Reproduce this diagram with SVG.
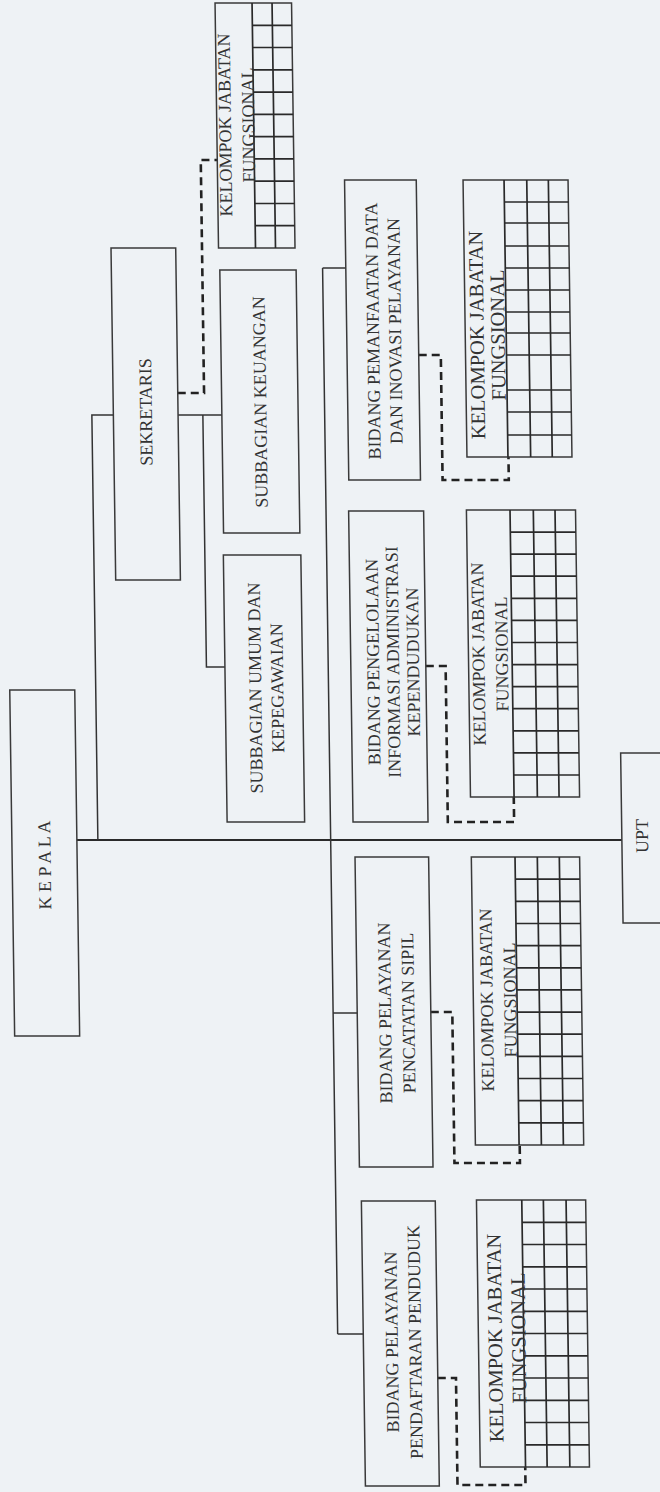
<svg xmlns="http://www.w3.org/2000/svg" width="660" height="1492" viewBox="0 0 660 1492">
<style>
.bg{fill:#eef2f5}
.box{fill:none;stroke:#3a3a3a;stroke-width:1.5}
.grid{fill:none;stroke:#2a2a2a;stroke-width:1.7}
.ln{fill:none;stroke:#333;stroke-width:1.5}
.main{fill:none;stroke:#2a2a2a;stroke-width:2}
.dash{fill:none;stroke:#222;stroke-width:2.6;stroke-dasharray:8 5}
text{font-family:"Liberation Serif","Times New Roman",serif;font-size:18px;fill:#333;text-anchor:middle;dominant-baseline:central}
.big{font-size:20.5px}
</style>
<rect class="bg" x="0" y="0" width="660" height="1492"/>
<g transform="skewX(0.81)">
<g id="connectors">
<path class="main" d="M65,840 H610"/>
<path class="ln" d="M86,840 V415 H107.5 M172.2,415 H216"/>
<path class="ln" d="M197,415 V667 H215.5"/>
<path class="ln" d="M318.8,268 V1334 M318.8,268 H342 M318.8,1013 H342.9 M318.8,1334 H344.4"/>
<path class="dash" d="M172.2,393 H198.5 V160 H215"/>
<path class="dash" d="M413.7,355 H435.8 V480 H502 V457"/>
<path class="dash" d="M416.4,666 H436.2 V822 H502.5 V797"/>
<path class="dash" d="M416.5,1012 H438 V1163 H503.5 V1145"/>
<path class="dash" d="M418.3,1378 H436.5 V1485 H504.5 V1467"/>
</g>
<g id="kepala">
<rect class="box" x="0" y="690" width="65" height="346"/>
<text transform="translate(32.5,865) rotate(-90)">K E P A L A</text>
</g>
<g id="sekretaris">
<rect class="box" x="107.5" y="248" width="64.7" height="332"/>
<text transform="translate(140,412) rotate(-90)">SEKRETARIS</text>
</g>
<g id="kjf-sekretariat">
<rect class="box" x="215" y="3" width="76.5" height="245"/>
<path class="grid" d="M252,3 V248 M272,3 V248 M252,25.3 H291.5 M252,47.5 H291.5 M252,69.8 H291.5 M252,92.1 H291.5 M252,114.4 H291.5 M252,136.6 H291.5 M252,158.9 H291.5 M252,181.2 H291.5 M252,203.5 H291.5 M252,225.7 H291.5"/>
<text transform="translate(223.2,125) rotate(-90)">KELOMPOK JABATAN</text>
<text transform="translate(246.5,125) rotate(-90)">FUNGSIONAL</text>
</g>
<g id="subbagian-keuangan">
<rect class="box" x="216" y="270" width="76.3" height="263"/>
<text transform="translate(254.5,402) rotate(-90)">SUBBAGIAN KEUANGAN</text>
</g>
<g id="subbagian-umum">
<rect class="box" x="215.5" y="555" width="77.5" height="267"/>
<text transform="translate(245.5,688) rotate(-90)">SUBBAGIAN UMUM DAN</text>
<text transform="translate(267.5,688) rotate(-90)">KEPEGAWAIAN</text>
</g>
<g id="bidang-pemanfaatan">
<rect class="box" x="342" y="180" width="71.7" height="300"/>
<text transform="translate(368.3,331) rotate(-90)">BIDANG PEMANFAATAN DATA</text>
<text transform="translate(390.3,331) rotate(-90)">DAN INOVASI PELAYANAN</text>
</g>
<g id="kjf-pemanfaatan">
<rect class="box" x="460.5" y="180" width="105" height="277"/>
<path class="grid" d="M501.5,180 V457 M524.2,180 V457 M545.8,180 V457 M501.5,202 H565.5 M501.5,223 H565.5 M501.5,246 H565.5 M501.5,268 H565.5 M501.5,290 H565.5 M501.5,312 H565.5 M501.5,333 H565.5 M501.5,355 H565.5 M501.5,390 H565.5 M501.5,412 H565.5 M501.5,435 H565.5"/>
<text class="big" transform="translate(472,335) rotate(-90)">KELOMPOK JABATAN</text>
<text class="big" transform="translate(493,335) rotate(-90)">FUNGSIONAL</text>
</g>
<g id="bidang-pengelolaan">
<rect class="box" x="341.4" y="511" width="75" height="311"/>
<text transform="translate(363.7,662) rotate(-90)">BIDANG PENGELOLAAN</text>
<text transform="translate(383.7,662) rotate(-90)">INFORMASI ADMINISTRASI</text>
<text transform="translate(403.7,662) rotate(-90)">KEPENDUDUKAN</text>
</g>
<g id="kjf-pengelolaan">
<rect class="box" x="459.2" y="510" width="109.1" height="287"/>
<path class="grid" d="M502.8,510 V797 M526.1,510 V797 M547.8,510 V797 M502.8,532.1 H568.3 M502.8,554.2 H568.3 M502.8,576.2 H568.3 M502.8,598.3 H568.3 M502.8,620.4 H568.3 M502.8,642.5 H568.3 M502.8,664.6 H568.3 M502.8,686.6 H568.3 M502.8,708.7 H568.3 M502.8,730.8 H568.3 M502.8,752.9 H568.3 M502.8,775 H568.3"/>
<text transform="translate(469.1,654) rotate(-90)">KELOMPOK JABATAN</text>
<text transform="translate(492.5,654) rotate(-90)">FUNGSIONAL</text>
</g>
<g id="bidang-pencatatan">
<rect class="box" x="342.9" y="857" width="73.6" height="310"/>
<text transform="translate(370.7,1013) rotate(-90)">BIDANG PELAYANAN</text>
<text transform="translate(394,1013) rotate(-90)">PENCATATAN SIPIL</text>
</g>
<g id="kjf-pencatatan">
<rect class="box" x="459.2" y="857" width="108.3" height="288"/>
<path class="grid" d="M502.9,857 V1145 M525.2,857 V1145 M547.2,857 V1145 M502.9,879.2 H567.5 M502.9,901.3 H567.5 M502.9,923.5 H567.5 M502.9,945.6 H567.5 M502.9,967.8 H567.5 M502.9,989.9 H567.5 M502.9,1012.1 H567.5 M502.9,1034.2 H567.5 M502.9,1056.4 H567.5 M502.9,1078.5 H567.5 M502.9,1100.7 H567.5 M502.9,1122.8 H567.5"/>
<text transform="translate(472.6,1000) rotate(-90)">KELOMPOK JABATAN</text>
<text transform="translate(495.9,1000) rotate(-90)">FUNGSIONAL</text>
</g>
<g id="bidang-pendaftaran">
<rect class="box" x="344.4" y="1201" width="73.9" height="285"/>
<text transform="translate(372.8,1342) rotate(-90)">BIDANG PELAYANAN</text>
<text transform="translate(396.1,1342) rotate(-90)">PENDAFTARAN PENDUDUK</text>
</g>
<g id="kjf-pendaftaran">
<rect class="box" x="459.5" y="1200" width="109.2" height="267"/>
<path class="grid" d="M504.8,1200 V1467 M526.4,1200 V1467 M549.1,1200 V1467 M504.8,1222.3 H568.7 M504.8,1244.5 H568.7 M504.8,1266.8 H568.7 M504.8,1289 H568.7 M504.8,1311.3 H568.7 M504.8,1333.5 H568.7 M504.8,1355.8 H568.7 M504.8,1378 H568.7 M504.8,1400.3 H568.7 M504.8,1422.5 H568.7 M504.8,1444.8 H568.7"/>
<text class="big" transform="translate(476,1338) rotate(-90)">KELOMPOK JABATAN</text>
<text class="big" transform="translate(499.5,1338) rotate(-90)">FUNGSIONAL</text>
</g>
<g id="upt">
<rect class="box" x="610" y="753" width="80" height="170"/>
<text transform="translate(630.2,836) rotate(-90)">UPT</text>
</g>
</g>
</svg>
